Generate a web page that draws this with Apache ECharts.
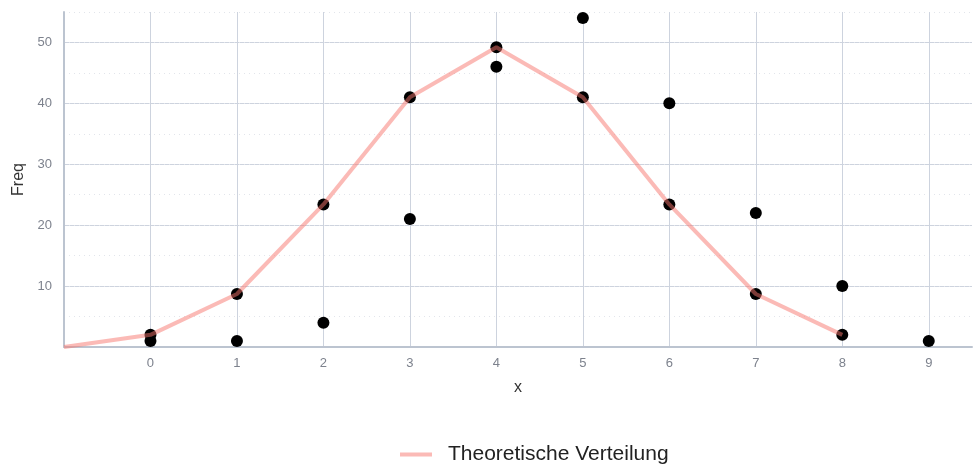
<!DOCTYPE html>
<html><head><meta charset="utf-8">
<script src="https://cdn.jsdelivr.net/npm/echarts@6/dist/echarts.min.js"></script>
<style>html,body{margin:0;padding:0;background:#fff}#c{width:975px;height:466px}</style>
</head><body><div id="c"></div>
<script>
// Observed frequencies
var obsX = [0, 1, 2, 3, 4, 5, 6, 7, 8, 9];
var obsFreq = [1, 1, 4, 21, 46, 54, 40, 22, 10, 1];
// Theoretical distribution
var theoX = [-1, 0, 1, 2, 3, 4, 5, 6, 7, 8];
var theoFreq = [0, 2, 8.7, 23.4, 41, 49.2, 41, 23.4, 8.7, 2];
var xTicks = [0, 1, 2, 3, 4, 5, 6, 7, 8, 9];
var yTicks = [10, 20, 30, 40, 50];
var seriesName = 'Theoretische Verteilung';

function pairs(xs, ys) { return xs.map(function (x, i) { return [x, ys[i]]; }); }

var font = 'Liberation Sans, Arial, sans-serif';
var gridCol = '#cdd3de';
var axisCol = '#bcc4d0';
var chart = echarts.init(document.getElementById('c'));
chart.setOption({
  animation: false,
  grid: { left: 64, right: 1, top: 12, bottom: 119 },
  legend: {
    data: [{ name: seriesName, icon: 'rect' }],
    top: 439, left: 395,
    itemWidth: 32, itemHeight: 4, itemGap: 10,
    textStyle: { fontFamily: font, fontSize: 21, color: '#222', padding: [0, 0, 0, 11] }
  },
  xAxis: {
    type: 'value', min: -1, max: 9.5, interval: 1,
    name: 'x', nameLocation: 'middle', nameGap: 33,
    nameTextStyle: { fontFamily: font, fontSize: 16, color: '#333' },
    axisLine: { show: true, onZero: false, lineStyle: { color: axisCol, width: 2 } },
    axisTick: { show: false },
    axisLabel: { fontFamily: font, fontSize: 13, color: '#7d828d', margin: 10,
      formatter: function (v) { return xTicks.indexOf(v) >= 0 ? String(v) : ''; } },
    splitLine: { show: true, showMinLine: false, showMaxLine: false, lineStyle: { color: gridCol, width: 1 } }
  },
  yAxis: [{
    type: 'value', min: 0, max: 55, interval: 10,
    name: 'Freq', nameLocation: 'middle', nameGap: 37,
    nameTextStyle: { fontFamily: font, fontSize: 16, color: '#333' },
    axisLine: { show: true, onZero: false, lineStyle: { color: axisCol, width: 2 } },
    axisTick: { show: false },
    axisLabel: { fontFamily: font, fontSize: 13, color: '#7d828d', margin: 12,
      formatter: function (v) { return yTicks.indexOf(v) >= 0 ? String(v) : ''; } },
    splitLine: { show: true, showMinLine: false, showMaxLine: false, lineStyle: { color: gridCol, width: 1 } }
  }, {
    type: 'value', min: 0, max: 55, interval: 5, position: 'left',
    axisLine: { show: false }, axisTick: { show: false }, axisLabel: { show: false },
    splitLine: { show: true, showMinLine: false, showMaxLine: true, lineStyle: { color: '#e2e5eb', width: 1, type: [1, 4] } }
  }],
  series: [{
    name: 'theo-points', type: 'scatter', yAxisIndex: 0,
    data: pairs(theoX.slice(1), theoFreq.slice(1)), symbolSize: 12,
    itemStyle: { color: '#000', opacity: 1 }, z: 2
  }, {
    name: 'observed', type: 'scatter', yAxisIndex: 0,
    data: pairs(obsX, obsFreq), symbolSize: 12,
    itemStyle: { color: '#000', opacity: 1 }, z: 2
  }, {
    name: seriesName, type: 'line', yAxisIndex: 0,
    data: pairs(theoX, theoFreq),
    showSymbol: false, symbol: 'none',
    lineStyle: { color: 'rgba(248,118,109,0.5)', width: 4 },
    itemStyle: { color: 'rgba(248,118,109,0.5)' },
    z: 4
  }]
});
</script></body></html>
